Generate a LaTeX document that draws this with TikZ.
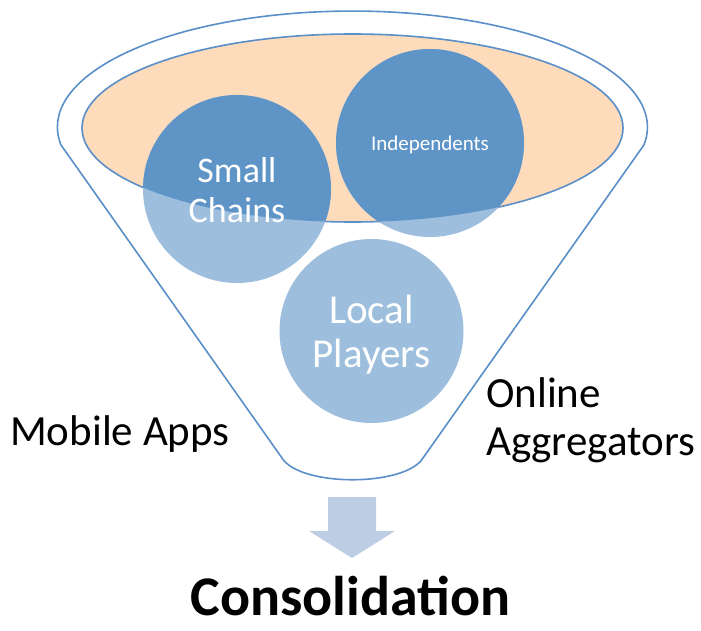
\documentclass[tikz,border=0pt]{standalone}
\usepackage{fontspec}
\setmainfont{Carlito}
\usepackage{xcolor}
\definecolor{Danube}{HTML}{5F94C7}
\definecolor{RegentBlue}{HTML}{9DBEDD}
\definecolor{Apricot}{HTML}{FDDBBB}
\definecolor{Havelock}{HTML}{5B8FC7}
\definecolor{Spindle}{HTML}{BDCDE3}
\tikzset{
  rim/.style={draw=Havelock,line width=1.6pt},
  bubble/.style={circle,fill=RegentBlue,minimum size=188pt,inner sep=0pt},
  bubbletext/.style={text=white,align=center,inner sep=0pt},
  caption/.style={inner sep=0pt,font=\fontsize{43}{48}\selectfont}
}

\begin{document}
\begin{tikzpicture}[x=1pt,y=-1pt]
    \useasboundingbox (0,0) rectangle (701,631);
    \draw[rim,fill=white] (61,145) arc[start angle=171.1,end angle=368.9,x radius=295,y radius=116]
        -- (423,458) .. controls (405,487) and (300,487) .. (282,458) -- cycle;

    \coordinate (mouth) at (352.5,128);
    \draw[rim,fill=Apricot] (mouth) ellipse[x radius=270.5,y radius=94];

    \node[bubble] (chains) at (237,189) {};
    \node[bubble] (indep) at (430,143) {};
    \node[bubble,minimum size=184pt] (local) at (371.5,331) {};
    \begin{scope}
        \clip (mouth) ellipse[x radius=270.5,y radius=94];
        \fill[Danube] (chains.center) circle[radius=94];
        \fill[Danube] (indep.center) circle[radius=94];
    \end{scope}

    \node[bubbletext,font=\fontsize{36}{40}\selectfont,yshift=-1pt] at (chains) {Small\\Chains};
    \node[bubbletext,font=\fontsize{21}{25}\selectfont,yshift=-2pt] at (indep) {Independents};
    \node[bubbletext,font=\fontsize{41}{44}\selectfont,yshift=-4pt] at (local) {Local\\Players};

    \fill[Spindle] (328,497) -- (376,497) -- (376,531) -- (395,531) -- (352,558) -- (309,531) -- (328,531) -- cycle;

    \node[caption,anchor=base west] (apps) at (10,445) {Mobile Apps};
    \node[caption,anchor=base west,align=left] (online) at (486,455) {Online\\Aggregators};
    \node[inner sep=0pt,anchor=base,font=\fontsize{56}{60}\selectfont\bfseries] (consol) at (350.5,615) {Consolidation};
\end{tikzpicture}
\end{document}
